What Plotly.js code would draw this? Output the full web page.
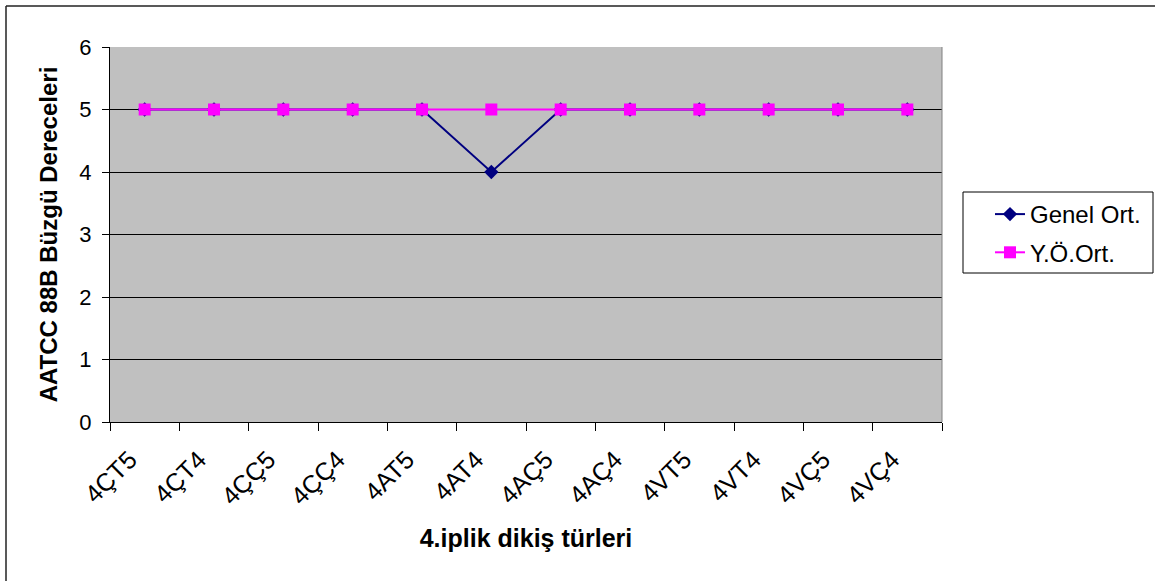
<!DOCTYPE html>
<html>
<head>
<meta charset="utf-8">
<script src="https://cdn.plot.ly/plotly-3.0.1.min.js"></script>
<style>html,body{margin:0;padding:0;background:#fff;}#chart{width:1155px;height:581px;}</style>
</head>
<body>
<div id="chart"></div>
<script>
const categories = ["4ÇT5","4ÇT4","4ÇÇ5","4ÇÇ4","4AT5","4AT4","4AÇ5","4AÇ4","4VT5","4VT4","4VÇ5","4VÇ4"];
const genelOrt = [5,5,5,5,5,4,5,5,5,5,5,5];
const yoOrt = [5,5,5,5,5,5,5,5,5,5,5,5];
const seriesNames = ["Genel Ort.","Y.Ö.Ort."];

const FONT = "Liberation Sans, Arial, sans-serif";
const traces = [
  {x: categories, y: genelOrt, name: seriesNames[0], type: "scatter", mode: "lines+markers",
   legendgroup: "a",
   line: {color: "#000080", width: 2}, marker: {symbol: "diamond", size: 11, color: "#000080"}},
  {x: categories, y: yoOrt, name: seriesNames[1], type: "scatter", mode: "lines+markers",
   legendgroup: "b",
   line: {color: "#FF00FF", width: 2}, marker: {symbol: "square", size: 12, color: "#FF00FF"}}
];

const L = 110, R = 942, T = 47, B = 422, W = 1155, H = 581;
const px = v => (v - L) / (R - L);
const py = v => (B - v) / (B - T);

const layout = {
  width: W, height: H,
  margin: {l: L, r: W - R, t: T, b: H - B, pad: 0},
  paper_bgcolor: "#ffffff",
  plot_bgcolor: "#C0C0C0",
  font: {family: FONT, color: "#000", size: 20},
  showlegend: true,
  legend: {
    xref: "container", yref: "container",
    x: 990 / W, y: 1 - 192 / H, xanchor: "left", yanchor: "top",
    bgcolor: "rgba(0,0,0,0)", borderwidth: 0,
    font: {family: FONT, size: 24, color: "#000"},
    traceorder: "grouped", tracegroupgap: 4
  },
  xaxis: {
    type: "category",
    tickson: "boundaries",
    ticks: "outside", ticklen: 8, tickcolor: "#000", tickwidth: 1,
    showline: true, linecolor: "#000", linewidth: 1,
    showgrid: false, zeroline: false,
    tickangle: -45,
    tickfont: {family: FONT, size: 25, color: "#000"},
    ticklabelstandoff: 12,
    ticklabelshift: -15,
    title: {text: "<b>4.iplik dikiş türleri</b>", font: {family: FONT, size: 25, color: "#000"}, standoff: 20},
    range: [-0.5, 11.5]
  },
  yaxis: {
    range: [0, 6], dtick: 1, tick0: 0,
    ticks: "outside", ticklen: 7, tickcolor: "#000", tickwidth: 1,
    showline: true, linecolor: "#000", linewidth: 1,
    showgrid: true, gridcolor: "#000", gridwidth: 1,
    zeroline: false,
    tickfont: {family: FONT, size: 22, color: "#000"},
    ticklabelstandoff: 6,
    title: {text: "<b>AATCC 88B Büzgü Dereceleri</b>", font: {family: FONT, size: 24, color: "#000"}, standoff: 14}
  },
  shapes: [
    {type: "line", xref: "paper", yref: "paper", x0: 1, x1: 1, y0: 0, y1: 1, line: {color: "#808080", width: 1}},
    {type: "line", xref: "paper", yref: "paper", x0: px(6), x1: px(6), y0: py(6), y1: py(600), line: {color: "#222", width: 1.5}},
    {type: "line", xref: "paper", yref: "paper", x0: px(6), x1: px(1200), y0: py(6), y1: py(6), line: {color: "#222", width: 1.5}},
    {type: "rect", xref: "paper", yref: "paper", x0: px(963), x1: px(1153), y0: py(192), y1: py(273),
     fillcolor: "#ffffff", line: {color: "#000", width: 1}}
  ]
};

Plotly.newPlot("chart", traces, layout, {displayModeBar: false, staticPlot: true});
</script>
</body>
</html>
